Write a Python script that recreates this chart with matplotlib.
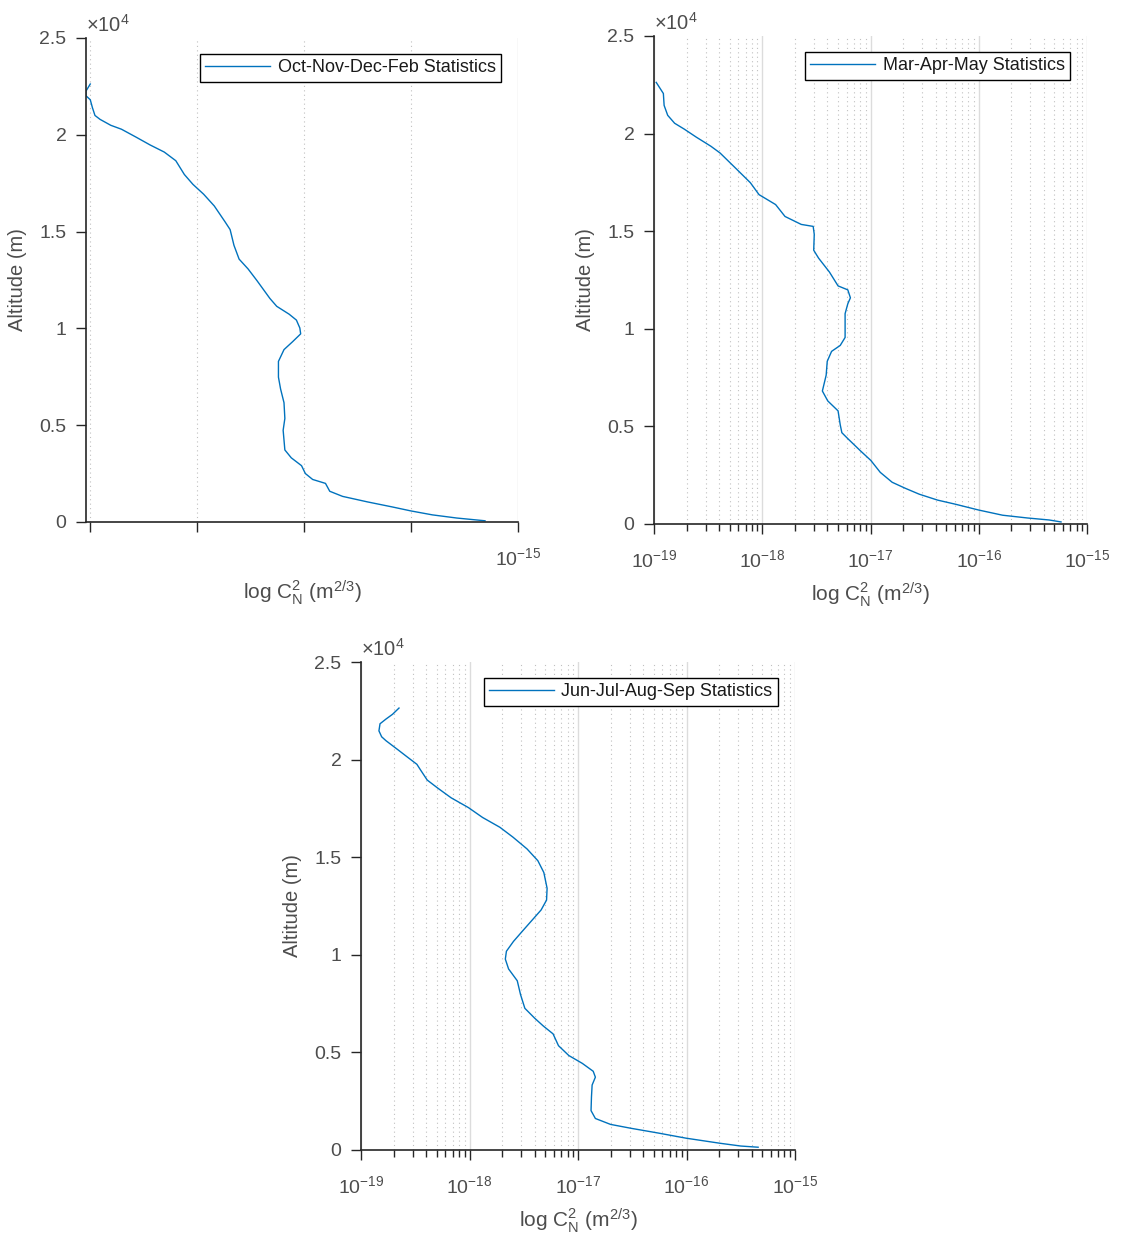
import matplotlib
matplotlib.use('Agg')
import matplotlib.pyplot as plt
from matplotlib.ticker import FixedLocator, NullFormatter, LogLocator
import numpy as np

plt.rcParams['font.family'] = ['Liberation Sans', 'DejaVu Sans']
plt.rcParams['mathtext.fontset'] = 'custom'
plt.rcParams['mathtext.rm'] = 'Liberation Sans'
plt.rcParams['mathtext.it'] = 'Liberation Sans:italic'

# values: altitude (m) and log10 of Cn2
alt_ondf = [22620, 22256, 22012, 21809, 21402, 20996, 20793, 20488, 20285, 19878,
            19472, 19106, 18659, 17947, 17439, 16931, 16321, 15508, 15102, 14289,
            13577, 13069, 12459, 11545, 11138, 10732, 10427, 10020, 9715, 9309,
            8902, 8293, 7480, 6870, 6159, 5346, 4736, 3720, 3313, 2907,
            2500, 2195, 1992, 1585, 1321, 1037, 772, 569, 366, 203, 61]
logc_ondf = [-16.0, -16.01, -16.01, -16.0, -15.995, -15.989, -15.977, -15.952, -15.927, -15.893,
             -15.86, -15.827, -15.80, -15.78, -15.76, -15.735, -15.71, -15.685, -15.673, -15.664,
             -15.652, -15.631, -15.61, -15.58, -15.564, -15.535, -15.518, -15.51, -15.508, -15.527,
             -15.547, -15.56, -15.56, -15.555, -15.547, -15.545, -15.549, -15.545, -15.53, -15.506,
             -15.497, -15.48, -15.45, -15.44, -15.41, -15.352, -15.293, -15.25, -15.20, -15.143, -15.077]

alt_mam = [22622, 22053, 21443, 20935, 20528, 20224, 19817, 19350, 19004, 18191,
           17480, 16870, 16362, 15752, 15345, 15244, 14837, 14024, 13618, 12907,
           12195, 11992, 11585, 11280, 10772, 9553, 9146, 8841, 8333, 7622,
           6809, 6301, 5793, 5081, 4675, 4370, 3760, 3252, 2642, 2134,
           1829, 1524, 1220, 1016, 711, 447, 305, 203, 102]
logc_mam = [-18.98, -18.914, -18.907, -18.874, -18.81, -18.72, -18.61, -18.475, -18.39, -18.24,
            -18.11, -18.03, -17.877, -17.79, -17.64, -17.53, -17.52, -17.525, -17.48, -17.38,
            -17.30, -17.21, -17.186, -17.21, -17.235, -17.235, -17.28, -17.36, -17.40, -17.41,
            -17.445, -17.395, -17.30, -17.28, -17.265, -17.21, -17.096, -16.997, -16.91, -16.80,
            -16.68, -16.55, -16.38, -16.22, -16.0, -15.78, -15.55, -15.35, -15.24]

alt_jjas = [22641, 22319, 22077, 21835, 21472, 21169, 20968, 20504, 20161, 19758,
            19456, 18952, 18548, 18044, 17540, 17036, 16532, 16028, 15423, 14819,
            14214, 13407, 12802, 12298, 11794, 11290, 10685, 10181, 9778, 9274,
            8669, 7964, 7258, 6754, 6351, 5948, 5343, 4839, 4435, 4032,
            3730, 3327, 2722, 2016, 1613, 1310, 1109, 867, 605, 343, 202, 141]
logc_jjas = [-18.65, -18.71, -18.77, -18.825, -18.835, -18.81, -18.77, -18.66, -18.58, -18.485,
             -18.45, -18.39, -18.295, -18.17, -18.01, -17.88, -17.72, -17.60, -17.47, -17.37,
             -17.315, -17.285, -17.29, -17.34, -17.42, -17.50, -17.595, -17.66, -17.67, -17.64,
             -17.56, -17.53, -17.49, -17.40, -17.32, -17.23, -17.18, -17.085, -16.96, -16.86,
             -16.84, -16.87, -16.876, -16.88, -16.84, -16.70, -16.51, -16.26, -16.005, -15.69, -15.50, -15.34]

labels = ['Oct-Nov-Dec-Feb Statistics', 'Mar-Apr-May Statistics', 'Jun-Jul-Aug-Sep Statistics']
alt_ticks = [0, 5000, 10000, 15000, 20000, 25000]
alt_ticklabels = ['0', '0.5', '1', '1.5', '2', '2.5']

line_color = '#0072BD'
axis_color = '#262626'
text_color = '#4d4d4d'

fig = plt.figure(figsize=(11.24, 12.36), dpi=100)
positions = [
    [0.0765, 0.5777, 0.3843, 0.3916],
    [0.5819, 0.5761, 0.3852, 0.3948],
    [0.3212, 0.0696, 0.3861, 0.3948],
]
series = [(logc_ondf, alt_ondf), (logc_mam, alt_mam), (logc_jjas, alt_jjas)]

for i, (pos, (logc, alt)) in enumerate(zip(positions, series)):
    ax = fig.add_axes(pos)
    ax.plot(10 ** np.array(logc), alt, color=line_color, lw=1.0, label=labels[i])
    ax.set_xscale('log')
    ax.set_ylim(0, 25000)
    ax.set_yticks(alt_ticks)
    ax.set_yticklabels(alt_ticklabels)

    if i == 0:
        # first panel spans about one decade, only 1e-15 carries a label
        ax.set_xlim(10 ** -16.01, 1e-15)
        ax.xaxis.set_major_locator(FixedLocator([1e-15]))
        ax.xaxis.set_minor_locator(FixedLocator([10 ** -16, 10 ** -15.75, 10 ** -15.5, 10 ** -15.25]))
        ax.xaxis.set_minor_formatter(NullFormatter())
        ax.tick_params(axis='x', which='minor', length=7, width=1)
    else:
        ax.set_xlim(1e-19, 1e-15)
        ax.xaxis.set_major_locator(FixedLocator([1e-19, 1e-18, 1e-17, 1e-16, 1e-15]))
        ax.xaxis.set_minor_locator(LogLocator(base=10, subs=np.arange(2, 10), numticks=20))
        ax.xaxis.set_minor_formatter(NullFormatter())
        ax.tick_params(axis='x', which='minor', length=5, width=1)

    ax.grid(True, axis='x', which='major', color='#dcdcdc', lw=1.0, ls='-')
    ax.grid(True, axis='x', which='minor', color='#c0c0c0', lw=0.8, ls=(0, (1, 3)))
    ax.set_axisbelow(True)

    for s in ['top', 'right']:
        ax.spines[s].set_visible(False)
    for s in ['left', 'bottom']:
        ax.spines[s].set_color(axis_color)
        ax.spines[s].set_linewidth(1.2)

    ax.tick_params(axis='both', which='major', direction='out', length=7, width=1,
                   color=axis_color, labelcolor=text_color, labelsize=14, pad=7)
    ax.tick_params(axis='x', which='major', pad=11)
    ax.tick_params(axis='x', which='minor', direction='out', color=axis_color)

    ax.set_xlabel(r'log C$_{\mathrm{N}}^{2}$ (m$^{2/3}$)', fontsize=15, color=text_color, labelpad=7)
    ax.set_ylabel('Altitude (m)', fontsize=14.5, color=text_color, labelpad=9)
    ax.text(0.0, 1.004, r'$\times$10$^4$', transform=ax.transAxes, fontsize=14.5,
            color=text_color, ha='left', va='bottom')

    w_px = pos[2] * 1124
    h_px = pos[3] * 1236
    leg = ax.legend(loc='upper right', bbox_to_anchor=(1 - 17 / w_px, 1 - 16 / h_px),
                    borderaxespad=0, fancybox=False, framealpha=1, edgecolor='black',
                    fontsize=13, handlelength=3.6, borderpad=0.3, handletextpad=0.4)
    leg.get_frame().set_linewidth(1.0)
    for t in leg.get_texts():
        t.set_color('#1a1a1a')

fig.savefig('out.png', dpi=100)
plt.close(fig)
